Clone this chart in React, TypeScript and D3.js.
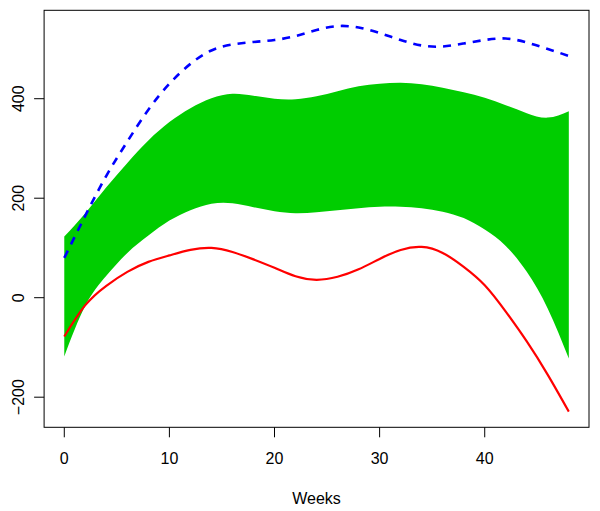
import React from "react";
import * as d3 from "d3";

const weeks = [0, 2, 4, 6, 8, 10, 12, 14, 16, 18, 20, 22, 24, 26, 28, 30, 32, 34, 36, 38, 40, 42, 44, 46, 48];
const bandUpper = [123, 170, 222, 271, 316, 353, 381, 401, 410, 406, 400, 399, 405, 415, 425, 430, 432, 429, 422, 413, 402, 387, 371, 362, 375];
const bandLower = [-118, -16, 44, 90, 125, 155, 176, 189, 190, 182, 174, 170, 172, 176, 180, 183, 183, 180, 173, 160, 137, 104, 52, -22, -122];
const redLine = [-78, -15, 24, 52, 72, 85, 96, 100, 92, 77, 60, 43, 36, 42, 57, 78, 96, 102, 90, 62, 25, -28, -88, -155, -229];
const blueLine = [80, 165, 245, 314, 378, 430, 470, 497, 509, 514, 518, 526, 538, 546, 543, 532, 518, 507, 505, 511, 518, 521, 513, 500, 486];
const xTicks = [0, 10, 20, 30, 40];
const yTicks = [-200, 0, 200, 400];
const xLabel = "Weeks";

export default function App() {
  const W = 600, H = 511;
  const left = 44.1, right = 589, top = 10.3, bottom = 427.3;
  const x = d3.scaleLinear().domain([-1.92, 49.92]).range([left, right]);
  const y = d3.scaleLinear().domain([-260.5, 577.7]).range([bottom, top]);
  const idx = weeks.map((_, i) => i);
  const area = d3.area<number>()
    .x((i) => x(weeks[i]))
    .y0((i) => y(bandLower[i]))
    .y1((i) => y(bandUpper[i]))
    .curve(d3.curveNatural);
  const lineRed = d3.line<number>().x((i) => x(weeks[i])).y((i) => y(redLine[i])).curve(d3.curveNatural);
  const lineBlue = d3.line<number>().x((i) => x(weeks[i])).y((i) => y(blueLine[i])).curve(d3.curveNatural);
  const font = "'Liberation Sans', Arial, sans-serif";
  return (
    <svg width={W} height={H} style={{ position: "absolute", left: 0, top: 0, background: "white" }}>
      <path d={area(idx) || ""} fill="#00CD00" />
      <path d={lineRed(idx) || ""} fill="none" stroke="#FF0000" strokeWidth={2.2} />
      <path d={lineBlue(idx) || ""} fill="none" stroke="#0000FF" strokeWidth={2.6} strokeDasharray="8,7" />
      <rect x={left} y={top} width={right - left} height={bottom - top} fill="none" stroke="#000" strokeWidth={1} />
      {xTicks.map((t) => (
        <g key={"x" + t}>
          <line x1={x(t)} x2={x(t)} y1={bottom} y2={bottom + 10} stroke="#000" />
          <text x={x(t)} y={464} fontSize={16} fontFamily={font} textAnchor="middle">{t}</text>
        </g>
      ))}
      {yTicks.map((t) => (
        <g key={"y" + t}>
          <line x1={left - 10} x2={left} y1={y(t)} y2={y(t)} stroke="#000" />
          <text transform={`translate(23.5,${y(t)}) rotate(-90)`} fontSize={16} fontFamily={font} textAnchor="middle">
            {t < 0 ? "\u2212" + Math.abs(t) : t}
          </text>
        </g>
      ))}
      <text x={(left + right) / 2} y={504} fontSize={16} fontFamily={font} textAnchor="middle">{xLabel}</text>
    </svg>
  );
}
